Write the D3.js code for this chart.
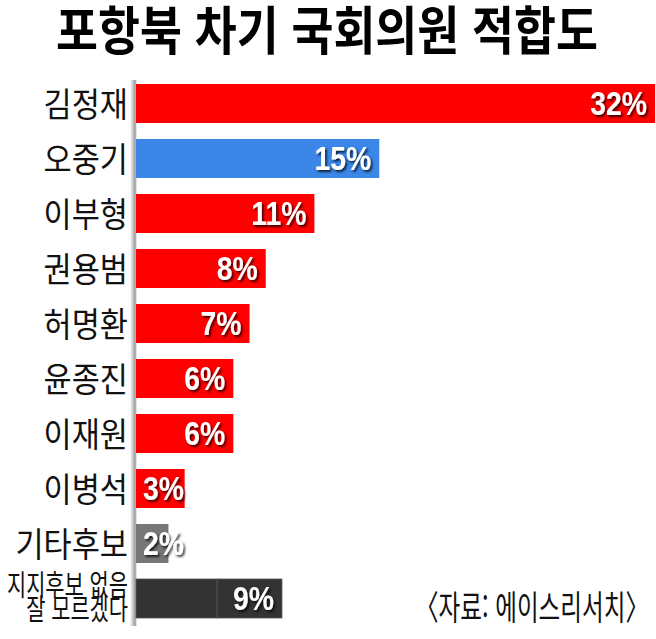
<!DOCTYPE html>
<html lang="ko">
<head>
  <meta charset="UTF-8">
  <title>포항북 차기 국회의원 적합도</title>
  <script src="https://d3js.org/d3.v7.min.js"></script>
  <style>
    body { margin: 0; background: #fff; }
  </style>
</head>
<body>
  <svg id="chart" width="656" height="639"></svg>
  <script>
    // data
    const categories = ["김정재", "오중기", "이부형", "권용범", "허명환", "윤종진", "이재원", "이병석", "기타후보", "지지후보 없음|잘 모르겠다"];
    const values = [32, 15, 11, 8, 7, 6, 6, 3, 2, 9];
    // last bar is split in two parts (없음 / 모르겠다)
    const lastParts = [5, 4];
    const barColors = ["#ff0000", "#3b86e6", "#ff0000", "#ff0000", "#ff0000", "#ff0000", "#ff0000", "#ff0000", "#777777", "#333333"];

    const svg = d3.select("svg#chart");
    const margin = {top: 76, left: 136, right: 1};
    const width = +svg.attr("width");

    const defs = svg.append("defs");
    const shadow = defs.append("filter").attr("id", "txtShadow")
                       .attr("x", "-20%").attr("y", "-20%").attr("width", "150%").attr("height", "160%");
    shadow.append("feDropShadow")
          .attr("dx", 2).attr("dy", 2).attr("stdDeviation", 1.3)
          .attr("flood-color", "#000").attr("flood-opacity", 0.75);

    const axisGrad = defs.append("linearGradient").attr("id", "axisGrad");
    axisGrad.append("stop").attr("offset", "0%").attr("stop-color", "#fff");
    axisGrad.append("stop").attr("offset", "100%").attr("stop-color", "#8a8a8a");

    const y = d3.scaleBand()
                .domain(categories)
                .range([margin.top, margin.top + 550])
                .paddingInner(16 / 55)
                .paddingOuter(8 / 55);

    const x = d3.scaleLinear()
                .domain([0, 32])
                .range([margin.left, width - margin.right]);

    // title
    svg.append("text")
       .attr("x", 327)
       .attr("y", 50)
       .attr("text-anchor", "middle")
       .attr("textLength", 542)
       .attr("lengthAdjust", "spacingAndGlyphs")
       .style("font", "bold 52px 'Noto Sans CJK KR'")
       .text("포항북 차기 국회의원 적합도");

    // axis line with soft shade on the left
    svg.append("rect")
       .attr("x", x(0) - 6).attr("y", 80)
       .attr("width", 6).attr("height", 546)
       .style("fill", "url(#axisGrad)");
    svg.append("line")
       .attr("x1", x(0)).attr("x2", x(0))
       .attr("y1", 80).attr("y2", 626)
       .style("stroke", "#c8c8c8");

    const bars = svg.append("g");
    categories.forEach((c, i) => {
      if (i === categories.length - 1) {
        let acc = 0;
        lastParts.forEach(p => {
          bars.append("rect")
              .attr("x", x(acc))
              .attr("y", y(c))
              .attr("width", x(acc + p) - x(acc))
              .attr("height", y.bandwidth())
              .style("fill", barColors[i])
              .style("stroke", "#555")
              .style("stroke-width", 0.8);
          acc += p;
        });
      } else {
        bars.append("rect")
            .attr("x", x(0))
            .attr("y", y(c))
            .attr("width", x(values[i]) - x(0))
            .attr("height", y.bandwidth())
            .style("fill", barColors[i]);
      }

      // value label, pushed right if the bar is too short
      const cy = y(c) + y.bandwidth() / 2;
      const vt = svg.append("text")
         .attr("text-anchor", "end")
         .attr("filter", "url(#txtShadow)")
         .style("font", "bold 33px 'Liberation Sans', Arial, sans-serif")
         .style("fill", "#fff")
         .text(values[i] + "%");
      const tw = vt.node().getComputedTextLength() * 0.86;
      const tx = Math.max(x(values[i]) - 8, x(0) + 7 + tw);
      vt.attr("transform", `translate(${tx},${cy + 11}) scale(0.86,1)`);

      // category label
      const lines = c.split("|");
      if (lines.length === 1) {
        svg.append("text")
           .attr("transform", `translate(128,${cy + 13}) scale(0.9,1)`)
           .attr("text-anchor", "end")
           .style("font", "34px 'Noto Sans CJK KR'")
           .style("fill", "#111")
           .text(c);
      } else {
        lines.forEach((l, k) => {
          svg.append("text")
             .attr("transform", `translate(128,${cy - 3 + k * 24}) scale(0.72,1)`)
             .attr("text-anchor", "end")
             .style("font", "29px 'Noto Sans CJK KR'")
             .style("fill", "#111")
             .text(l);
        });
      }
    });

    // source
    svg.append("text")
       .attr("x", 649)
       .attr("y", 620)
       .attr("text-anchor", "end")
       .attr("textLength", 234)
       .attr("lengthAdjust", "spacingAndGlyphs")
       .style("font", "34px 'Noto Sans CJK KR'")
       .style("fill", "#111")
       .text("〈자료: 에이스리서치〉");
  </script>
</body>
</html>
